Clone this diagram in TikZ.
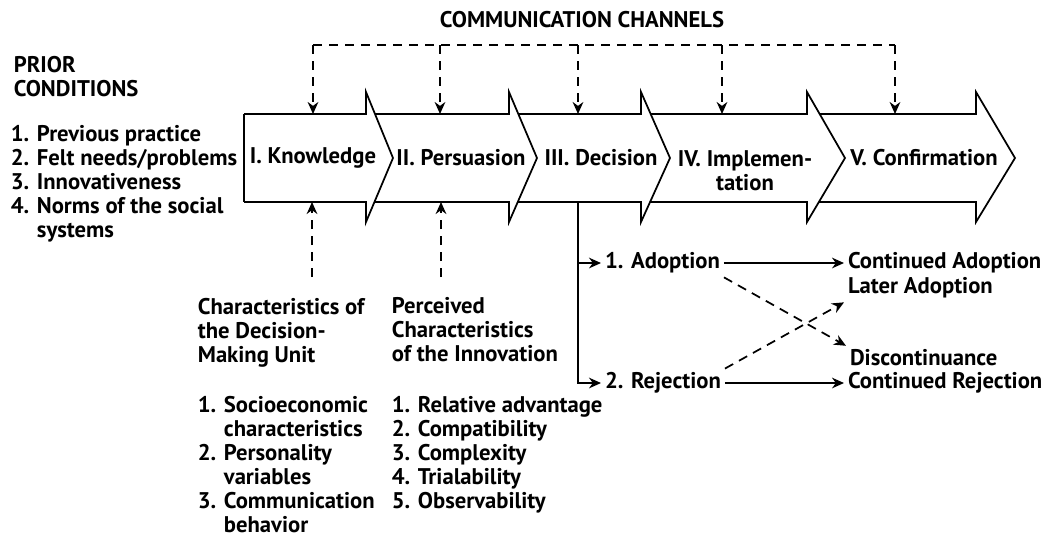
\documentclass[tikz,border=0pt]{standalone}
\usepackage{fontspec}
\setmainfont{PT Sans}
\usetikzlibrary{arrows.meta, positioning, calc}

\tikzset{
  stage/.style={fill=white, draw, line width=1.3pt, line join=miter},
  lbl/.style={font=\bfseries\fontsize{17}{18}\selectfont, inner sep=0pt, align=left},
  chan/.style={dash pattern=on 7pt off 5pt, line width=1.3pt},
  tip/.style={-{Stealth[length=9pt,width=8pt]}},
}

\begin{document}
\begin{tikzpicture}[x=0.75pt, y=-0.75pt, line width=1.3pt]
  \fill[white] (0,0) rectangle (1056,537);
  \useasboundingbox (0,0) rectangle (1056,537);

  % stages, right to left so every head lies over the next body
  \foreach \xl/\xv/\xt in {807/976/1015, 641/807/845, 509/641/670, 366/509/537, 244/366/393}
    \filldraw[stage] (\xl,114) -- (\xv,114) -- (\xv,92) -- (\xt,158) -- (\xv,222) -- (\xv,202) -- (\xl,202);
  \draw (244,114) -- (244,202);

  \node (know) [lbl] at (313,158) {I. Knowledge};
  \node (pers) [lbl] at (461,158) {II. Persuasion};
  \node (deci) [lbl] at (601,158) {III. Decision};
  \node (impl) [lbl, align=center, anchor=north] at (745,150) {IV. Implemen-\\tation};
  \node (conf) [lbl] at (924,158) {V. Confirmation};

  % communication channels
  \node (comm) [lbl] at (582,20) {COMMUNICATION CHANNELS};
  \coordinate (bus) at (0,45);
  \coordinate (t1) at (313,114);
  \coordinate (t2) at (440,114);
  \coordinate (t3) at (578,114);
  \coordinate (t4) at (722,114);
  \coordinate (t5) at (895,114);
  \draw[chan] (t1 |- bus) -- (t5 |- bus);
  \foreach \t in {t1,t2,t3,t4,t5}
    \draw[chan, tip] (\t |- bus) -- (\t);

  % prior conditions
  \node (prior) [lbl, anchor=north west] at (13,55) {PRIOR\\CONDITIONS};
  \node (priorlist) [lbl, anchor=north west] at (10,124)
    {1. Previous practice\\2. Felt needs/problems\\3. Innovativeness\\4. Norms of the social\\\phantom{4. }systems};

  % characteristics below the chain
  \node (dmu) [lbl, anchor=north west] at (197,297) {Characteristics of\\the Decision-\\Making Unit};
  \node (dmulist) [lbl, anchor=north west] at (197,395)
    {1. Socioeconomic\\\phantom{1. }characteristics\\2. Personality\\\phantom{2. }variables\\3. Communication\\\phantom{3. }behavior};
  \node (innov) [lbl, anchor=north west] at (391,297) {Perceived\\Characteristics\\of the Innovation};
  \node (innovlist) [lbl, anchor=north west] at (391,395)
    {1. Relative advantage\\2. Compatibility\\3. Complexity\\4. Trialability\\5. Observability};

  \coordinate (b1) at (312,202);
  \coordinate (b2) at (441,202);
  \coordinate (dec) at (578,202);
  \draw[chan, tip] (b1 |- dmu.north) ++(0,-20) -- (b1);
  \draw[chan, tip] (b2 |- innov.north) ++(0,-20) -- (b2);

  % outcomes of the decision
  \node (adopt) [lbl, anchor=west, outer sep=3pt] at (601,263) {1. Adoption};
  \node (reject) [lbl, anchor=west, outer sep=3pt] at (601,383) {2. Rejection};
  \node (contadopt) [lbl, anchor=west, outer sep=3pt] at (844,263) {Continued Adoption};
  \node (later) [lbl, anchor=west, outer sep=3pt] at (844,288) {Later Adoption};
  \node (discont) [lbl, anchor=west, outer sep=3pt] at (846,358) {Discontinuance};
  \node (contreject) [lbl, anchor=west, outer sep=3pt] at (844,383) {Continued Rejection};

  \draw[tip] (dec) |- (reject.west);
  \draw[tip] (dec |- adopt.west) -- (adopt.west);
  \path[tip]
    (adopt) edge (contadopt)
    (reject) edge (contreject);
  \draw[chan, tip] (adopt.south east) -- (discont.north west);
  \draw[chan, tip] (reject.north east) -- (later.south west);
\end{tikzpicture}
\end{document}
